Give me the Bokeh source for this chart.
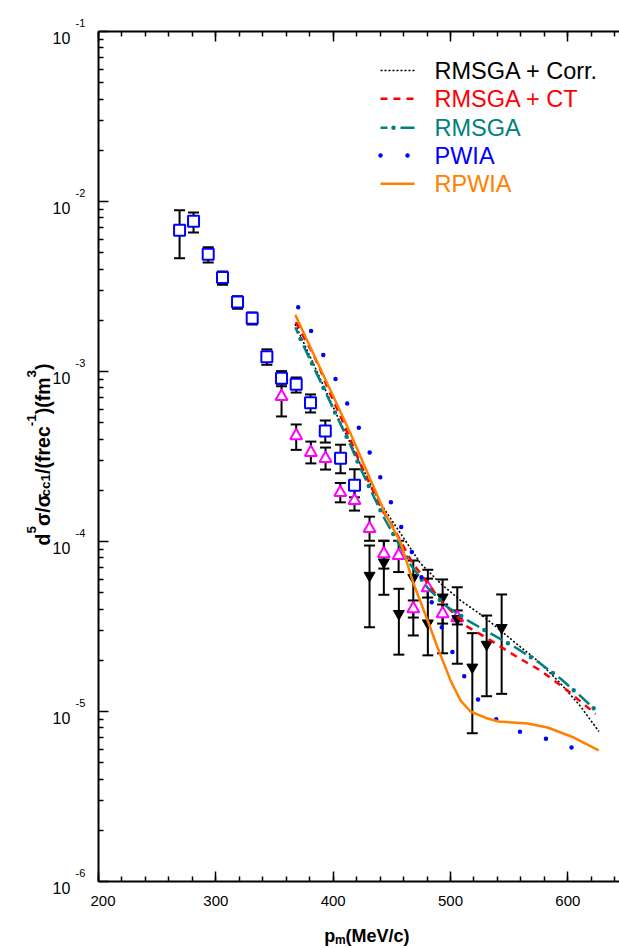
from bokeh.plotting import figure
from bokeh.layouts import row, column
from bokeh.models import (Range1d, ColumnDataSource, Whisker, TeeHead, LinearAxis, FixedTicker,
                          SingleIntervalTicker, LabelSet, CustomJSTickFormatter)
from bokeh.embed import file_html
from bokeh.resources import INLINE
from bokeh.core.properties import value
import math

# ---------------- data ----------------
# open squares (blue)
sq_x = [269.1, 281.0, 293.5, 305.7, 318.5, 331.0, 343.5, 356.0, 368.5, 380.7, 393.3, 406.3, 418.2]
sq_y = [6.78e-3, 7.66e-3, 4.90e-3, 3.57e-3, 2.56e-3, 2.06e-3, 1.22e-3, 9.13e-4, 8.42e-4, 6.55e-4, 4.46e-4, 3.09e-4, 2.14e-4]
sq_hi = [8.89e-3, 8.62e-3, 5.38e-3, 3.87e-3, 2.77e-3, 2.22e-3, 1.35e-3, 1.005e-3, 9.22e-4, 7.33e-4, 5.15e-4, 3.71e-4, 2.66e-4]
sq_lo = [4.64e-3, 6.57e-3, 4.38e-3, 3.24e-3, 2.34e-3, 1.89e-3, 1.095e-3, 8.19e-4, 7.52e-4, 5.74e-4, 3.82e-4, 2.52e-4, 1.82e-4]

# open triangles (magenta)
tri_x = [356.0, 368.5, 381.0, 393.5, 406.1, 418.2, 431.0, 443.2, 455.8, 468.3, 480.5, 493.3, 505.8]
tri_y = [7.13e-4, 4.19e-4, 3.34e-4, 3.08e-4, 1.94e-4, 1.74e-4, 1.19e-4, 8.47e-5, 8.27e-5, 4.02e-5, 5.35e-5, 3.76e-5, 3.56e-5]
tri_hi = [8.47e-4, 4.88e-4, 3.87e-4, 3.57e-4, 2.21e-4, 2.05e-4, 1.40e-4, 1.01e-4, 1.01e-4, 4.50e-5, 6.05e-5, 4.26e-5, 3.93e-5]
tri_lo = [5.44e-4, 3.46e-4, 2.88e-4, 2.65e-4, 1.70e-4, 1.52e-4, 1.01e-4, 6.93e-5, 6.61e-5, 3.57e-5, 4.68e-5, 3.29e-5, 3.25e-5]

# filled inverted triangles (black)
blk_x = [431.0, 443.2, 456.0, 468.3, 480.7, 493.3, 505.8, 518.6, 530.8, 543.6]
blk_y = [6.31e-5, 7.55e-5, 3.76e-5, 6.12e-5, 3.31e-5, 4.70e-5, 3.51e-5, 1.82e-5, 2.48e-5, 3.11e-5]
blk_hi = [9.47e-5, 1.01e-4, 5.27e-5, 7.73e-5, 6.82e-5, 5.98e-5, 5.38e-5, 2.89e-5, 3.67e-5, 4.88e-5]
blk_lo = [3.13e-5, 4.86e-5, 2.16e-5, 2.80e-5, 2.14e-5, 2.20e-5, 1.91e-5, 7.45e-6, 1.23e-5, 1.27e-5]

# RMSGA + Corr. (black dotted)
corr_x = [367.5, 385.0, 403.7, 423.4, 440.4, 457.5, 474.5, 491.6, 508.6, 528.2, 556.1, 575.1, 593.9, 610.9, 626.5]
corr_y = [1.903e-3, 1.042e-3, 5.44e-4, 2.84e-4, 1.673e-4, 1.114e-4, 7.43e-5, 5.66e-5, 4.50e-5, 3.62e-5,
          2.51e-5, 1.968e-5, 1.461e-5, 1.070e-5, 7.63e-6]

# RMSGA + CT (red dashed)
ct_x = [368.2, 375.0, 382.2, 389.3, 395.0, 407.8, 423.4, 441.9, 448.9, 467.4, 491.6, 514.3, 534.2, 556.9, 576.8, 599.6, 623.7]
ct_y = [1.950e-3, 1.592e-3, 1.299e-3, 1.014e-3, 8.09e-4, 5.15e-4, 2.84e-4, 1.522e-4, 1.294e-4, 7.52e-5,
        4.50e-5, 3.16e-5, 2.62e-5, 2.09e-5, 1.742e-5, 1.33e-5, 9.67e-6]

# RMSGA (teal dash-dot)
rm_x = [367.7, 374.2, 384.4, 394.1, 404.3, 414.2, 423.4, 433.3, 443.2, 454.6, 466.0, 480.2, 495.8, 515.7,
        535.6, 555.5, 575.4, 593.9, 611.5, 623.7]
rm_y = [1.822e-3, 1.442e-3, 1.023e-3, 7.39e-4, 5.24e-4, 3.76e-4, 2.68e-4, 1.92e-4, 1.384e-4, 1.004e-4,
        7.30e-5, 5.38e-5, 4.19e-5, 3.40e-5, 2.84e-5, 2.38e-5, 1.94e-5, 1.557e-5, 1.22e-5, 1.018e-5]

# PWIA (blue dots)
pw_x = [370.2, 381.3, 391.8, 402.3, 412.4, 422.3, 431.6, 440.7, 449.8, 458.6, 467.7, 476.0, 484.7, 493.5,
        502.6, 512.9, 525.1, 541.0, 561.9, 584.5, 606.4]
pw_y = [2.39e-3, 1.726e-3, 1.242e-3, 8.94e-4, 6.40e-4, 4.60e-4, 3.28e-4, 2.34e-4, 1.667e-4, 1.188e-4,
        8.47e-5, 5.98e-5, 4.28e-5, 3.02e-5, 2.16e-5, 1.55e-5, 1.13e-5, 8.70e-6, 7.45e-6, 6.82e-6, 6.03e-6]

# RPWIA (orange solid)
rp_x = [367.7, 380.7, 397.8, 414.8, 433.3, 444.7, 457.5, 468.5, 480.5, 489.0, 500.1, 508.6, 517.1,
        531.6, 541.0, 565.7, 582.8, 605.0, 626.3]
rp_y = [2.156e-3, 1.384e-3, 7.73e-4, 4.32e-4, 2.185e-4, 1.442e-4, 9.86e-5, 5.66e-5, 3.43e-5, 2.38e-5,
        1.52e-5, 1.16e-5, 1.0e-5, 9.09e-6, 8.73e-6, 8.50e-6, 8.05e-6, 7.03e-6, 5.90e-6]

legend_labels = ["RMSGA + Corr.", "RMSGA + CT", "RMSGA", "PWIA", "RPWIA"]
legend_colors = ["black", "#FF0000", "#008080", "#0000FF", "#FF8000"]

y_decades = [1e-6, 1e-5, 1e-4, 1e-3, 1e-2, 1e-1]
y_exponents = ["-6", "-5", "-4", "-3", "-2", "-1"]
x_major_interval = 100

# ---------------- layout (page pixels) ----------------
PW, PH = 619, 948            # whole page
LW = 90                      # left strip (tick labels + y title)
BH = 28                      # bottom strip (x title)
MW, MH = PW - LW, PH - BH    # main figure
BL, BR, BT, BB = 8, 0, 31, 39
FL = LW + BL                 # frame left on page
FW, FH = MW - BL - BR, MH - BT - BB
X0, X1 = 200, 200 + FW / 1.1733
Y0, Y1 = 1e-6, 1e-1
L0, L1 = math.log10(Y0), math.log10(Y1)

def dx(px):  # page px -> data x
    return X0 + (px - FL) / FW * (X1 - X0)

def dy(py):  # page px from top -> data y
    return 10 ** (L1 - (py - BT) / FH * (L1 - L0))

def sy(v):  # data y -> page px from top
    return BT + (L1 - math.log10(v)) / (L1 - L0) * FH

# ---------------- main figure ----------------
p = figure(width=MW, height=MH, y_axis_type="log",
           x_range=Range1d(X0, X1), y_range=Range1d(Y0, Y1),
           output_backend="svg", toolbar_location=None,
           min_border_left=BL, min_border_right=BR, min_border_top=BT, min_border_bottom=BB)
p.outline_line_color = None
p.grid.visible = False

minor = [m * d for d in y_decades[:-1] for m in range(2, 10)]
p.yaxis.ticker = FixedTicker(ticks=y_decades, minor_ticks=minor)
p.yaxis.formatter = CustomJSTickFormatter(code="return ''")
p.xaxis.ticker = SingleIntervalTicker(interval=x_major_interval, num_minor_ticks=5)

for ax in (p.xaxis[0], p.yaxis[0]):
    ax.axis_line_width = 2
    ax.major_tick_in = 10
    ax.major_tick_out = 0
    ax.minor_tick_in = 5
    ax.minor_tick_out = 0
    ax.major_tick_line_width = 1.5
    ax.minor_tick_line_width = 1.5
p.yaxis.major_label_standoff = 0
p.xaxis.major_label_text_font = "Liberation Sans"
p.xaxis.major_label_text_font_size = "15px"
p.xaxis.major_label_text_color = "black"
p.xaxis.major_label_standoff = 14

top = LinearAxis(ticker=SingleIntervalTicker(interval=x_major_interval, num_minor_ticks=5),
                 formatter=CustomJSTickFormatter(code="return ''"),
                 axis_line_width=2, major_tick_in=10, major_tick_out=0, minor_tick_in=5, minor_tick_out=0,
                 major_tick_line_width=1.5, minor_tick_line_width=1.5, major_label_standoff=0)
p.add_layout(top, "above")

def whisk(xs, lo, hi):
    src = ColumnDataSource(dict(x=xs, lo=lo, hi=hi))
    w = Whisker(base="x", lower="lo", upper="hi", source=src, dimension="height",
                line_color="black", line_width=2,
                upper_head=TeeHead(size=11, line_width=2, line_color="black"),
                lower_head=TeeHead(size=11, line_width=2, line_color="black"))
    p.add_layout(w)

whisk(sq_x, sq_lo, sq_hi)
whisk(tri_x, tri_lo, tri_hi)
whisk(blk_x, blk_lo, blk_hi)

p.scatter(sq_x, sq_y, marker="square", size=11, line_color="#0000FF", fill_color="white", line_width=2)
p.scatter(tri_x, tri_y, marker="triangle", size=12, line_color="#FF00FF", fill_color="white", line_width=2)
p.scatter(blk_x, blk_y, marker="inverted_triangle", size=11, line_color="black", fill_color="black")

styles = [
    [dict(line_color="black", line_width=1.6, line_dash="2 2")],
    [dict(line_color="#FF0000", line_width=2.5, line_dash="7 6")],
    [dict(line_color="#008080", line_width=2.5, line_dash="14 13", line_dash_offset=7),
     dict(line_color="#008080", line_width=4.5, line_dash="0 27", line_dash_offset=14, line_cap="round")],
    [dict(line_color="#0000FF", line_width=4.5, line_dash="0 27", line_cap="round")],
    [dict(line_color="#FF8000", line_width=2.5)],
]
curves = [(corr_x, corr_y), (ct_x, ct_y), (rm_x, rm_y), (pw_x, pw_y), (rp_x, rp_y)]
for (cx, cy), st in zip(curves, styles):
    for s in st:
        p.line(cx, cy, **s)

# legend (samples + coloured labels)
rows_y = [70, 98.3, 127.3, 155, 183.3]
for st, ry in zip(styles, rows_y):
    for s in st:
        p.line([dx(380), dx(414)], [dy(ry), dy(ry)], **s)
lsrc = ColumnDataSource(dict(x=[dx(434)] * 5, y=[dy(r) for r in rows_y], t=legend_labels, c=legend_colors))
p.add_layout(LabelSet(x="x", y="y", text="t", text_color="c", source=lsrc,
                      text_font=value("Liberation Sans"), text_font_size=value("23.5px"),
                      text_baseline="middle", text_align="left"))

# ---------------- helper strips for texts outside the frame ----------------
def strip(w, h, x_lo, y_lo):
    f = figure(width=w, height=h, x_range=Range1d(x_lo, x_lo + w), y_range=Range1d(y_lo, y_lo + h),
               output_backend="svg", toolbar_location=None, x_axis_location=None, y_axis_location=None,
               min_border=0, min_border_left=0, min_border_right=0, min_border_top=0, min_border_bottom=0)
    f.outline_line_color = None
    f.grid.visible = False
    return f

def put(f, px, py, s, size, bold=False, angle=0.0):
    f.text(x=[px], y=[PH - py], text=[s], angle=angle,
           text_font=value("Liberation Sans"), text_font_size=value(f"{size}px"),
           text_font_style="bold" if bold else "normal",
           text_baseline="alphabetic", text_align="left", text_color="black")

left = strip(LW, PH, 0, 0)
for d, e in zip(y_decades, y_exponents):
    ty = sy(d)
    put(left, 52, ty + 6.3, "10", 16)
    put(left, 75, ty - 8.3, e, 11)

CW = {'d': .611, 'σ': .62, '/': .278, '(': .333, ')': .333, 'f': .333, 'r': .389, 'e': .556,
      'c': .556, 'm': .889, 'p': .611, 'M': .833, 'V': .667, '-': .333}
def tw(s, size):
    return sum(CW.get(ch, .556) for ch in s) * size

MAIN, SMALL = 19.5, 13.5
ypieces = [("d", 0), ("5", 1), ("σ/σ", 0), ("cc1", -1), ("/(frec", 0), ("-1", 1), (")(fm", 0), ("3", 1), (")", 0)]
pos = 545.0
for s, kind in ypieces:
    size = MAIN if kind == 0 else SMALL
    base_x = 42 + (-11.5 if kind == 1 else (3 if kind == -1 else 0))
    put(left, base_x, pos, s, size, bold=True, angle=math.pi / 2)
    pos -= tw(s, size)

bottom = strip(MW, BH, LW, 0)
XM, XS = 18, 12
xpieces = [("p", 0), ("m", -1), ("(MeV/c)", 0)]
total = sum(tw(s, XM if k == 0 else XS) for s, k in xpieces)
pos = 362 - total / 2
for s, kind in xpieces:
    size = XM if kind == 0 else XS
    put(bottom, pos, 935 + (4 if kind == -1 else 0), s, size, bold=True)
    pos += tw(s, size)

layout = row(left, column(p, bottom, spacing=0), spacing=0)
open("out.html", "w").write(file_html(layout, INLINE))
